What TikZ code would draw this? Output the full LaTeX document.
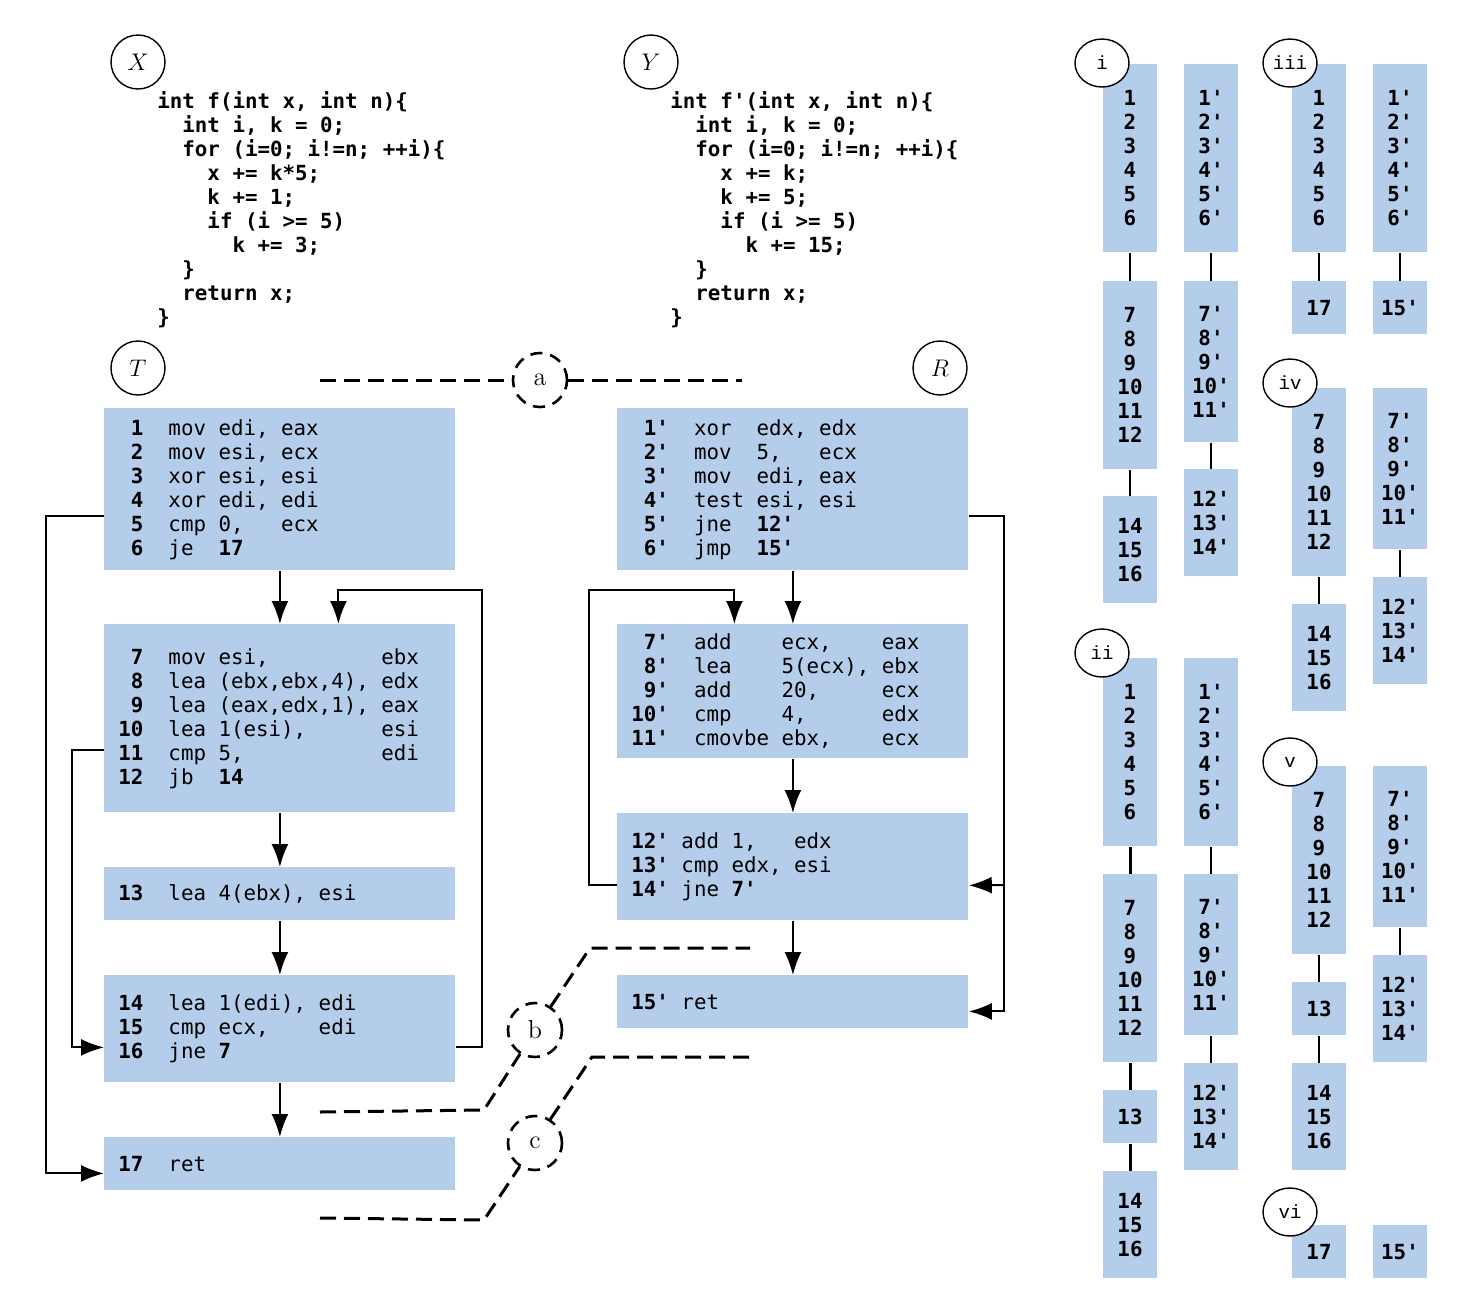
\documentclass[tikz,border=0pt]{standalone}
\usepackage{fontspec}
\setmonofont{DejaVu Sans Mono}
\newfontfamily\labfont{Liberation Mono}
\usetikzlibrary{arrows.meta,shapes.geometric}
\definecolor{boxblue}{RGB}{180,205,234}
\newcommand{\lnum}[1]{\textbf{#1}}
\newcommand{\pad}{\hphantom{0}}
\newcommand{\ind}[1]{\hphantom{#1}}
\begin{document}
\begin{tikzpicture}[x=0.5pt,y=-0.5pt,
    code/.style={fill=boxblue,anchor=north west,inner xsep=7pt,inner ysep=0pt,text width=161.5pt,align=flush left,
      font=\fontsize{10.4}{12}\selectfont\ttfamily\frenchspacing},
    src/.style={anchor=north west,inner sep=0pt,align=left,
      font=\fontsize{10.4}{12}\selectfont\ttfamily\bfseries\frenchspacing},
    mini/.style={fill=boxblue,anchor=north,inner sep=0pt,minimum width=27pt,align=center,
      font=\fontsize{10.4}{12}\selectfont\ttfamily\bfseries},
    tag/.style={circle,draw,fill=white,line width=0.7pt,minimum size=27pt,inner sep=0pt,font=\fontsize{11.5}{13}\selectfont},
    rom/.style={ellipse,draw,fill=white,line width=0.7pt,minimum width=27pt,minimum height=24pt,inner sep=0pt,
      font=\fontsize{9.5}{11}\selectfont\labfont},
    cut/.style={line width=1.5pt,dash pattern=on 8pt off 4pt},
    cutc/.style={circle,draw,fill=white,line width=1.3pt,dash pattern=on 6pt off 4pt,minimum size=27pt,inner sep=0pt,
      font=\fontsize{13}{15}\selectfont},
    arr/.style={line width=1pt,-{Latex[length=11.5pt,width=8.5pt]}},
    link/.style={line width=0.6pt},
    boldlink/.style={line width=1.5pt}]
  \useasboundingbox (0,0) rectangle (1464,1303);

  \node[tag] (tx) at (138,62) {$X$};
  \node[tag] (ty) at (651,62) {$Y$};
  \node[tag] (tt) at (138,368) {$T$};
  \node[tag] (tr) at (940,368) {$R$};

  \node[src] (xcode) at (157,91) {int f(int x, int n)\{\\
    \ind{00}int i, k = 0;\\
    \ind{00}for (i=0; i!=n; ++i)\{\\
    \ind{0000}x += k*5;\\
    \ind{0000}k += 1;\\
    \ind{0000}if (i >= 5)\\
    \ind{000000}k += 3;\\
    \ind{00}\}\\
    \ind{00}return x;\\
    \}};
  \node[src] (ycode) at (670,91) {int f'(int x, int n)\{\\
    \ind{00}int i, k = 0;\\
    \ind{00}for (i=0; i!=n; ++i)\{\\
    \ind{0000}x += k;\\
    \ind{0000}k += 5;\\
    \ind{0000}if (i >= 5)\\
    \ind{000000}k += 15;\\
    \ind{00}\}\\
    \ind{00}return x;\\
    \}};

  \node[code,minimum height=81pt] (t1) at (104,408) {\pad\lnum{1}~~mov edi, eax\\
    \pad\lnum{2}~~mov esi, ecx\\
    \pad\lnum{3}~~xor esi, esi\\
    \pad\lnum{4}~~xor edi, edi\\
    \pad\lnum{5}~~cmp 0,~~~ecx\\
    \pad\lnum{6}~~je~~\lnum{17}};
  \node[code,minimum height=94pt] (t2) at (104,624) {\pad\lnum{7}~~mov esi,~~~~~~~~~ebx\\
    \pad\lnum{8}~~lea (ebx,ebx,4), edx\\
    \pad\lnum{9}~~lea (eax,edx,1), eax\\
    \lnum{10}~~lea 1(esi),~~~~~~esi\\
    \lnum{11}~~cmp 5,~~~~~~~~~~~edi\\
    \lnum{12}~~jb~~\lnum{14}};
  \node[code,minimum height=26.5pt] (t3) at (104,867) {\lnum{13}~~lea 4(ebx), esi};
  \node[code,minimum height=53.5pt] (t4) at (104,975) {\lnum{14}~~lea 1(edi), edi\\
    \lnum{15}~~cmp ecx,~~~~edi\\
    \lnum{16}~~jne \lnum{7}};
  \node[code,minimum height=26.5pt] (t5) at (104,1137) {\lnum{17}~~ret};

  \node[code,minimum height=81pt] (r1) at (617,408) {\pad\lnum{1'}~~xor~~edx, edx\\
    \pad\lnum{2'}~~mov~~5,~~~ecx\\
    \pad\lnum{3'}~~mov~~edi, eax\\
    \pad\lnum{4'}~~test esi, esi\\
    \pad\lnum{5'}~~jne~~\lnum{12'}\\
    \pad\lnum{6'}~~jmp~~\lnum{15'}};
  \node[code,minimum height=67pt] (r2) at (617,624) {\pad\lnum{7'}~~add~~~~ecx,~~~~eax\\
    \pad\lnum{8'}~~lea~~~~5(ecx), ebx\\
    \pad\lnum{9'}~~add~~~~20,~~~~~ecx\\
    \lnum{10'}~~cmp~~~~4,~~~~~~edx\\
    \lnum{11'}~~cmovbe ebx,~~~~ecx};
  \node[code,minimum height=53.5pt] (r3) at (617,813) {\lnum{12'} add 1,~~~edx\\
    \lnum{13'} cmp edx, esi\\
    \lnum{14'} jne \lnum{7'}};
  \node[code,minimum height=26.5pt] (r4) at (617,975) {\lnum{15'} ret};

  \draw[arr] (t1) -- (t2);
  \draw[arr] (t2) -- (t3);
  \draw[arr] (t3) -- (t4);
  \draw[arr] (t4) -- (t5);
  \draw[arr] ([yshift=-9.25pt]t4.east) -| (482,590) -| ([xshift=29.25pt]t2.north);
  \draw[arr] ([yshift=-13.5pt]t1.west) -- ++(-58,0) |- ([yshift=-4.75pt]t5.west);
  \draw[arr] ([yshift=-16pt]t2.west) -- ++(-32,0) |- ([yshift=-9.25pt]t4.west);

  \draw[arr] (r1) -- (r2);
  \draw[arr] (r2) -- (r3);
  \draw[arr] (r3) -- (r4);
  \draw[arr] ([yshift=-9.25pt]r3.west) -| (589,590) -| ([xshift=-29.25pt]r2.north);
  \draw[arr] ([yshift=-13.5pt]r1.east) -- ++(35,0) |- ([yshift=-4.75pt]r4.east);
  \coordinate (rj) at (1003,885);
  \draw[arr] (rj) -- ([yshift=-9.25pt]r3.east);

  \node[cutc] (ca) at (540,380) {a};
  \node[cutc] (cb) at (535,1030) {b};
  \node[cutc] (cc) at (535,1143) {c};
  \coordinate (a1) at (320,380);
  \coordinate (a2) at (742,380);
  \coordinate (b1) at (320,1112);
  \coordinate (b2) at (750,948);
  \coordinate (c1) at (320,1218);
  \coordinate (c2) at (750,1057);
  \draw[cut] (a1) -- (ca.west);
  \draw[cut] (ca.east) -- (a2);
  \draw[cut] (b1) -- (484,1110) -- (cb.238);
  \draw[cut] (cb.56) -- (590,948) -- (b2);
  \draw[cut] (c1) -- (484,1220) -- (cc.237);
  \draw[cut] (cc.57) -- (592,1057) -- (c2);

  \node[mini,minimum height=94pt] (ia1) at (1130,64) {1\\2\\3\\4\\5\\6};
  \node[mini,minimum height=94pt] (ia2) at (1130,281) {7\\8\\9\\10\\11\\12};
  \node[mini,minimum height=53.5pt] (ia3) at (1130,496) {14\\15\\16};
  \node[mini,minimum height=94pt] (ib1) at (1211,64) {1'\\2'\\3'\\4'\\5'\\6'};
  \node[mini,minimum height=80.5pt] (ib2) at (1211,281) {7'\\8'\\9'\\10'\\11'};
  \node[mini,minimum height=53.5pt] (ib3) at (1211,469) {12'\\13'\\14'};
  \draw[link] (ia1) -- (ia2);
  \draw[link] (ia2) -- (ia3);
  \draw[link] (ib1) -- (ib2);
  \draw[link] (ib2) -- (ib3);
  \node[rom] (li) at (1102,63) {i};

  \node[mini,minimum height=94pt] (iia1) at (1130,658) {1\\2\\3\\4\\5\\6};
  \node[mini,minimum height=94pt] (iia2) at (1130,874) {7\\8\\9\\10\\11\\12};
  \node[mini,minimum height=26.5pt] (iia3) at (1130,1090) {13};
  \node[mini,minimum height=53.5pt] (iia4) at (1130,1171) {14\\15\\16};
  \node[mini,minimum height=94pt] (iib1) at (1211,658) {1'\\2'\\3'\\4'\\5'\\6'};
  \node[mini,minimum height=80.5pt] (iib2) at (1211,874) {7'\\8'\\9'\\10'\\11'};
  \node[mini,minimum height=53.5pt] (iib3) at (1211,1063) {12'\\13'\\14'};
  \draw[boldlink] (iia1) -- (iia2);
  \draw[boldlink] (iia2) -- (iia3);
  \draw[boldlink] (iia3) -- (iia4);
  \draw[link] (iib1) -- (iib2);
  \draw[link] (iib2) -- (iib3);
  \node[rom] (lii) at (1102,653) {ii};

  \node[mini,minimum height=94pt] (iiia1) at (1319,64) {1\\2\\3\\4\\5\\6};
  \node[mini,minimum height=26.5pt] (iiia2) at (1319,281) {17};
  \node[mini,minimum height=94pt] (iiib1) at (1400,64) {1'\\2'\\3'\\4'\\5'\\6'};
  \node[mini,minimum height=26.5pt] (iiib2) at (1400,281) {15'};
  \draw[link] (iiia1) -- (iiia2);
  \draw[link] (iiib1) -- (iiib2);
  \node[rom] (liii) at (1290,63) {iii};

  \node[mini,minimum height=94pt] (iva1) at (1319,388) {7\\8\\9\\10\\11\\12};
  \node[mini,minimum height=53.5pt] (iva2) at (1319,604) {14\\15\\16};
  \node[mini,minimum height=80.5pt] (ivb1) at (1400,388) {7'\\8'\\9'\\10'\\11'};
  \node[mini,minimum height=53.5pt] (ivb2) at (1400,577) {12'\\13'\\14'};
  \draw[link] (iva1) -- (iva2);
  \draw[link] (ivb1) -- (ivb2);
  \node[rom] (liv) at (1290,383) {iv};

  \node[mini,minimum height=94pt] (va1) at (1319,766) {7\\8\\9\\10\\11\\12};
  \node[mini,minimum height=26.5pt] (va2) at (1319,982) {13};
  \node[mini,minimum height=53.5pt] (va3) at (1319,1063) {14\\15\\16};
  \node[mini,minimum height=80.5pt] (vb1) at (1400,766) {7'\\8'\\9'\\10'\\11'};
  \node[mini,minimum height=53.5pt] (vb2) at (1400,955) {12'\\13'\\14'};
  \draw[link] (va1) -- (va2);
  \draw[link] (va2) -- (va3);
  \draw[link] (vb1) -- (vb2);
  \node[rom] (lv) at (1290,762) {v};

  \node[mini,minimum height=26.5pt] (via1) at (1319,1225) {17};
  \node[mini,minimum height=26.5pt] (vib1) at (1400,1225) {15'};
  \node[rom] (lvi) at (1290,1212) {vi};
\end{tikzpicture}
\end{document}
